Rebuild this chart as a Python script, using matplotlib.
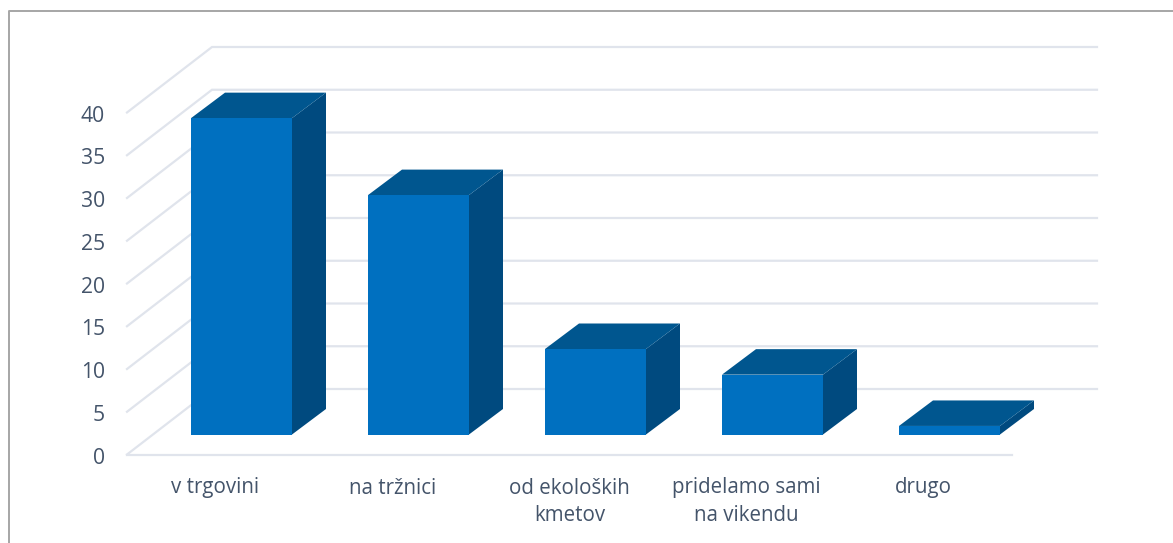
import matplotlib
matplotlib.use("Agg")
import matplotlib.pyplot as plt
from matplotlib.patches import Polygon
from matplotlib.lines import Line2D

categories = ["v trgovini", "na tržnici", "od ekoloških\nkmetov", "pridelamo sami\nna vikendu", "drugo"]
values = [37, 28, 10, 7, 1]
yticks = [0, 5, 10, 15, 20, 25, 30, 35, 40]

W, H = 1173, 543
PX_X = 177.0
PX_Y = 8.55
X0 = 215.5
Y0 = 454.5
DX = 85 / PX_X
DY = 65.5 / PX_Y
BAR_W = 101 / PX_X
BAR_OFF = 26 / 85
BAR_DEPTH = 34 / 85
GRID = "#E0E4EC"
TXT = "#44546A"
FRONT, TOP, SIDE = "#0070C0", "#00568F", "#004A7F"

fig = plt.figure(figsize=(W / 100, H / 100), dpi=100)
ax = fig.add_axes([0, 0, 1, 1])
ax.set_xlim(-X0 / PX_X, (W - X0) / PX_X)
ax.set_ylim((Y0 - H) / PX_Y, Y0 / PX_Y)
ax.axis("off")

fig.add_artist(Line2D([9 / W, 9 / W, 1], [0, 1 - 11 / H, 1 - 11 / H],
                      color="#A6A6A6", lw=1.4))

L, R = -0.5, len(categories) - 0.5
for v in yticks:
    ax.plot([L, L + DX, R + DX], [v, v + DY, v + DY], color=GRID, lw=1.6, zorder=1,
            solid_joinstyle="miter")
    ax.text(L - 22 / PX_X, v - 1 / PX_Y, str(v), ha="right", va="center_baseline", color=TXT,
            fontsize=15.2, family="Open Sans")
ax.plot([L, R], [0, 0], color=GRID, lw=1.6, zorder=1)

for i, (name, v) in enumerate(zip(categories, values)):
    x0 = i - 0.5 + (1 - BAR_W) / 2 + (BAR_OFF * DX)
    x1 = x0 + BAR_W
    y0 = 20 / PX_Y
    y1 = y0 + v
    dx, dy = BAR_DEPTH * DX, 25.5 / PX_Y
    ax.add_patch(Polygon([(x1, y0), (x1 + dx, y0 + dy), (x1 + dx, y1 + dy), (x1, y1)],
                         fc=SIDE, ec="none", zorder=3))
    ax.add_patch(Polygon([(x0, y1), (x1, y1), (x1 + dx, y1 + dy), (x0 + dx, y1 + dy)],
                         fc=TOP, ec="none", zorder=3))
    ax.add_patch(Polygon([(x0, y0), (x1, y0), (x1, y1), (x0, y1)],
                         fc=FRONT, ec="none", zorder=4))
    ax.text(i, -(486 - Y0 - 8.5) / PX_Y, name, ha="center", va="top", color=TXT,
            fontsize=14.8, family="Open Sans", linespacing=1.42)

fig.savefig("out.png", dpi=100)
